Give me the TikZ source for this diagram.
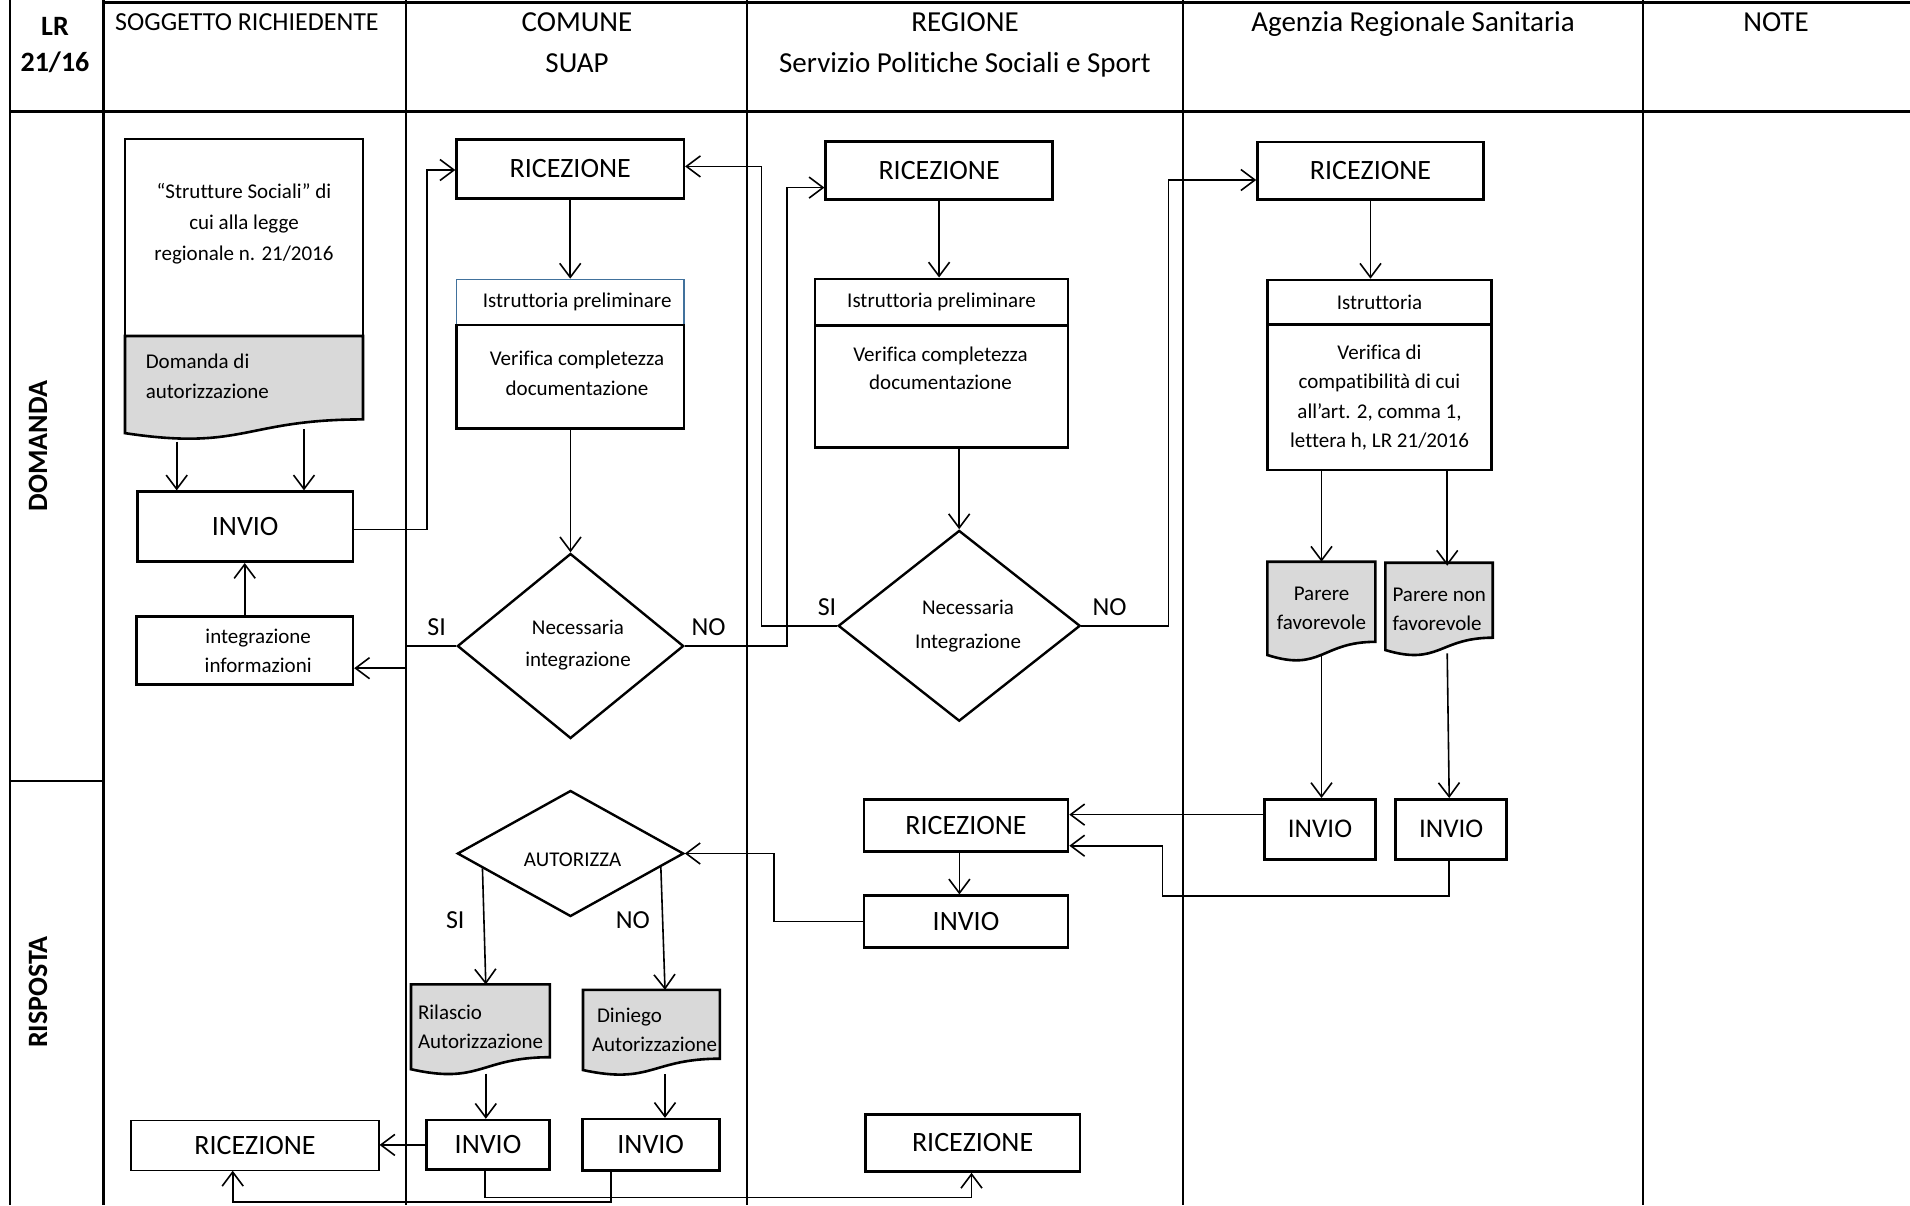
\documentclass[tikz,border=0pt]{standalone}
\usepackage{fontspec}
\setmainfont{Carlito}[RawFeature={-liga}]
\usetikzlibrary{arrows.meta,shapes.geometric,calc}
\definecolor{docgrey}{HTML}{D9D9D9}
\definecolor{hdrblue}{HTML}{41719C}
\newcommand{\fbig}{\fontsize{28}{34}\selectfont}
\newcommand{\fsmall}{\fontsize{21}{30}\selectfont}
\newcommand{\fhead}{\fontsize{29}{35}\selectfont}
\newcommand{\flbl}{\fontsize{26}{30}\selectfont}
\tikzset{
  lane/.style={line width=2.4pt},
  bx/.style={draw, line width=2.6pt, inner sep=0pt, font=\fbig},
  thinbx/.style={draw, line width=1.1pt, inner sep=0pt, font=\fbig},
  sbx/.style={draw, line width=2.6pt, inner sep=0pt, font=\fsmall, align=center},
  dia/.style={draw, diamond, line width=2.4pt, inner sep=0pt},
  txt/.style={inner sep=0pt, font=\fsmall, align=center},
  arr/.style={line width=1.6pt, -{Straight Barb[length=14pt,width=21pt,line width=1.6pt]}},
  lbl/.style={inner sep=0pt, font=\flbl},
  docfill/.style={draw, line width=2.6pt, fill=docgrey},
}
% name, x, y (top left), w, h, node options, text
\newcommand{\docshape}[7]{%
  \draw[docfill] (#2,#3) -- ({#2+#4},#3) -- ({#2+#4},{#3+0.802*#5})
     .. controls ({#2+0.5*#4},{#3+0.802*#5}) and ({#2+0.5*#4},{#3+1.107*#5}) .. (#2,{#3+0.934*#5}) -- cycle;
  \node[txt, anchor=north west, minimum width=#4pt, minimum height={0.933*#5pt}, #6] (#1) at (#2,#3) {#7};
}
\begin{document}
\begin{tikzpicture}[x=1pt,y=-1pt]
\useasboundingbox (0,0) rectangle (1910,1205);
% ---------- grid ----------
\draw[lane] (10,0) -- (10,1205);
\foreach \xx in {103.5,406,747,1182.7,1642.7} \draw[lane] (\xx,0) -- (\xx,1205);
\draw[line width=3pt] (103.5,2.7) -- (1910,2.7);
\draw[line width=3.4pt] (10,111.7) -- (1910,111.7);
\draw[line width=1.6pt] (10,781) -- (103.5,781);
% ---------- headers ----------
\node[anchor=base, inner sep=0pt, font=\fbig\bfseries] (hLR1) at (55,35) {LR};
\node[anchor=base, inner sep=0pt, font=\fbig\bfseries] (hLR2) at (55,71.7) {21/16};
\node[anchor=base west, inner sep=0pt, font=\flbl] (hSog) at (115,30) {SOGGETTO RICHIEDENTE};
\node[anchor=base, inner sep=0pt, font=\fhead] (hCom1) at (577,31) {COMUNE};
\node[anchor=base, inner sep=0pt, font=\fhead] (hCom2) at (577,72) {SUAP};
\node[anchor=base, inner sep=0pt, font=\fhead] (hReg1) at (965,31) {REGIONE};
\node[anchor=base, inner sep=0pt, font=\fhead] (hReg2) at (965,72) {Servizio Politiche Sociali e Sport};
\node[anchor=base, inner sep=0pt, font=\fhead] (hAsl) at (1413,31) {Agenzia Regionale Sanitaria};
\node[anchor=base, inner sep=0pt, font=\fhead] (hNote) at (1776,31) {NOTE};
\node[rotate=90, inner sep=0pt, font=\fbig\bfseries] (lDom) at (38,446) {DOMANDA};
\node[rotate=90, inner sep=0pt, font=\fbig\bfseries] (lRis) at (38,992) {RISPOSTA};
% ---------- soggetto richiedente ----------
\node[sbx, minimum width=238pt, minimum height=197pt] (docS) at (244,237.5) {};
\node[txt, font=\fontsize{21}{31}\selectfont] (docStxt) at (244,224) {“Strutture Sociali” di\\cui alla legge\\regionale n. 21/2016};
\docshape{dom}{125}{336}{238}{104}{}{}
\node[txt, anchor=west, align=left] (domtxt) at (145.6,376.7) {Domanda di\\autorizzazione};
\coordinate (domA) at (176.7,441.7);
\coordinate (domB) at (304,429);
\node[bx, minimum width=215.7pt, minimum height=70pt] (invR) at (245.2,526.7) {INVIO};
\node[sbx, minimum width=216.4pt, minimum height=67.7pt, font=\fontsize{21}{29}\selectfont] (intR) at (244.7,650.6) {\hspace*{27pt}integrazione\\\hspace*{27pt}informazioni};
\node[thinbx, minimum width=248pt, minimum height=50pt] (ricR) at (255,1145.2) {RICEZIONE};
% ---------- comune ----------
\node[bx, minimum width=227.2pt, minimum height=59pt] (ricC) at (570.2,168.8) {RICEZIONE};
\node[draw=hdrblue, line width=1.4pt, inner sep=0pt, font=\fsmall, minimum width=227.2pt, minimum height=45.7pt] (istCh) at (570.2,302.2) {\hspace*{14pt}Istruttoria preliminare};
\node[sbx, minimum width=227.2pt, minimum height=103.3pt] (istCb) at (570.2,376.7) {};
\node[txt] (istCt) at (577,373.3) {Verifica completezza\\documentazione};
\node[dia, minimum width=226.3pt, minimum height=185pt] (dC) at (570.5,646) {};
\node[txt, font=\fontsize{21}{32}\selectfont] (dCt) at (578,644.6) {Necessaria\\integrazione};
\node[lbl] (siC) at (436.6,627.3) {SI};
\node[lbl] (noC) at (708.6,627.3) {NO};
\node[dia, minimum width=226.3pt, minimum height=126pt] (autC) at (570.5,853.5) {};
\node[txt] (autCt) at (572.6,860) {AUTORIZZA};
\node[lbl] (siA) at (455.3,919.7) {SI};
\node[lbl] (noA) at (632.8,919.7) {NO};
\docshape{rilC}{411}{984.4}{138.8}{90.8}{align=left, font=\fontsize{21}{29}\selectfont}{Rilascio\\Autorizzazione}
\docshape{denC}{583}{989.8}{136.8}{85.9}{align=left, font=\fontsize{21}{29}\selectfont, xshift=3pt}{\hspace*{5pt}Diniego\\Autorizzazione}
\node[bx, minimum width=122.5pt, minimum height=49.6pt] (invC1) at (488,1144.9) {INVIO};
\node[bx, minimum width=137pt, minimum height=51.3pt] (invC2) at (650.7,1144.8) {INVIO};
% ---------- regione ----------
\node[bx, minimum width=226.8pt, minimum height=58pt] (ricG) at (939.1,170.6) {RICEZIONE};
\node[sbx, minimum width=253pt, minimum height=46.4pt] (istGh) at (941.5,302) {Istruttoria preliminare};
\node[sbx, minimum width=253pt, minimum height=122.3pt] (istGb) at (941.5,386.3) {};
\node[txt, font=\fontsize{21}{28}\selectfont] (istGt) at (940.5,368) {Verifica completezza\\documentazione};
\node[dia, minimum width=242pt, minimum height=190.8pt] (dG) at (959.2,625.8) {};
\node[txt, font=\fontsize{21}{34}\selectfont] (dGt) at (968,626.2) {Necessaria\\Integrazione};
\node[lbl] (siG) at (827,607) {SI};
\node[lbl] (noG) at (1109.6,607) {NO};
\node[bx, minimum width=204pt, minimum height=52.4pt] (ricG2) at (966,825.5) {RICEZIONE};
\node[bx, minimum width=204pt, minimum height=51.6pt] (invG) at (966,921.5) {INVIO};
\node[bx, minimum width=214.7pt, minimum height=57.2pt] (ricG3) at (972.6,1142.9) {RICEZIONE};
% ---------- ASL ----------
\node[bx, minimum width=226pt, minimum height=57.2pt] (ricA) at (1370.5,170.7) {RICEZIONE};
\node[sbx, minimum width=224pt, minimum height=44.6pt] (istAh) at (1379.5,302.3) {Istruttoria};
\node[sbx, minimum width=224pt, minimum height=145.4pt, font=\fontsize{21}{29.5}\selectfont] (istAb) at (1379.5,397.3) {Verifica di\\compatibilità di cui\\all’art. 2, comma 1,\\lettera h, LR 21/2016};
\docshape{pf}{1267.3}{561.7}{108}{99.9}{font=\fontsize{21}{28.6}\selectfont}{Parere\\favorevole}
\docshape{pn}{1385.3}{562.7}{107.4}{93.5}{align=left, font=\fontsize{21}{28.6}\selectfont, yshift=-3pt}{Parere non\\favorevole}
\node[bx, minimum width=111.4pt, minimum height=60pt, font=\fontsize{27}{32}\selectfont] (invA1) at (1320,829.3) {INVIO};
\node[bx, minimum width=111pt, minimum height=60pt, font=\fontsize{27}{32}\selectfont] (invA2) at (1451.2,829.3) {INVIO};
% ---------- connectors ----------
\draw[arr] (domA) -- (domA |- invR.north);
\draw[arr] (domB) -- (domB |- invR.north);
\draw[arr] ([yshift=-2.6pt]invR.east) -| (426.7,170) -- (ricC.west |- 0,170);
\draw[arr] (ricC.south) -- (ricC.south |- istCh.north);
\draw[arr] (dC.north |- istCb.south) -- (dC.north);
\draw[arr] (dC.west) -- (406,646) |- ([yshift=-17.6pt]intR.east);
\draw[arr] (intR.north) -- (intR.north |- invR.south);
\draw[arr] (dC.east) -- (786.9,646) |- ([yshift=-17pt]ricG.west);
\draw[arr] (dG.west) -- (761.4,625.8) |- (ricC.east |- 0,166.4);
\draw[arr] (ricG.south) -- (ricG.south |- istGh.north);
\draw[arr] (dG.north |- istGb.south) -- (dG.north);
\draw[arr] (dG.east) -- (1168.6,625.8) |- ([yshift=-9.3pt]ricA.west);
\draw[arr] (ricA.south) -- (ricA.south |- istAh.north);
\draw[arr] (pf.north |- istAb.south) -- (pf.north);
\draw[arr] ([xshift=8pt]pn.north |- istAb.south) -- ([xshift=8pt]pn.north);
\draw[arr] (pf.south) -- (pf.south |- invA1.north);
\draw[arr] ([xshift=8pt]pn.south) -- ([xshift=-2pt]invA2.north);
\draw[arr] ([yshift=14.7pt]invA1.west) -- ([yshift=14.7pt]invA1.west -| ricG2.east);
\draw[arr] ([xshift=-2pt]invA2.south) |- (1162.3,895.7) |- ([yshift=-20.2pt]ricG2.east);
\draw[arr] ([xshift=-6.6pt]ricG2.south) -- ([xshift=-6.6pt]invG.north);
\draw[arr] (invG.west) -| (773.7,853.5) -- (autC.east);
\draw[arr] ($(autC.west)!0.23!(autC.south)$) -- ([xshift=5.2pt]rilC.north);
\draw[arr] ($(autC.east)!0.21!(autC.south)$) -- ([xshift=10.4pt]denC.north);
\draw[arr] ([xshift=5.2pt,yshift=-4pt]rilC.south) -- ([xshift=5.2pt]rilC.south |- invC1.north);
\draw[arr] ([xshift=10.4pt,yshift=-4pt]denC.south) -- ([xshift=10.4pt]denC.south |- invC2.north);
\draw[arr] (invC1.west) -- (invC1.west -| ricR.east);
\draw[arr] ([xshift=-39.9pt]invC2.south) -- ++(0,30.5) -| ([xshift=-22.3pt]ricR.south);
\draw[arr] ([xshift=-3.3pt]invC1.south) -- ++(0,26.6) -| ([xshift=-1.1pt]ricG3.south);
\end{tikzpicture}
\end{document}
